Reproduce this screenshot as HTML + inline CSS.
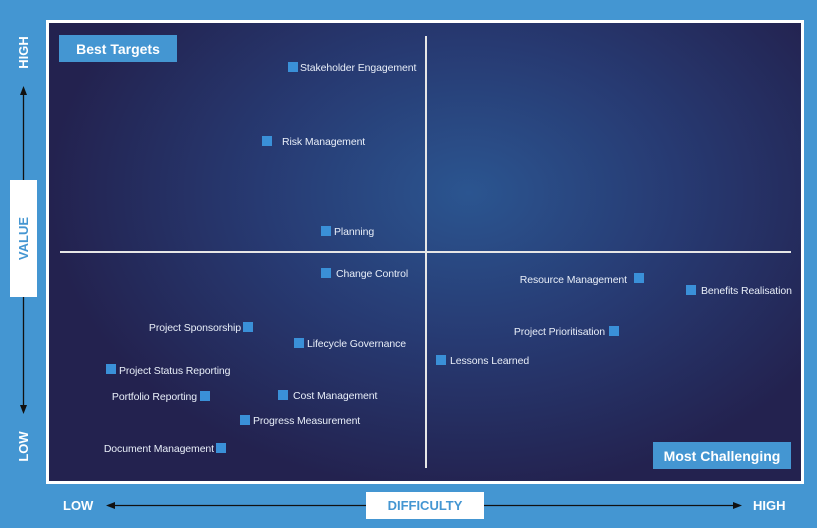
<!DOCTYPE html>
<html><head><style>
*{margin:0;padding:0;box-sizing:border-box}
body{width:817px;height:528px;background:#4496d2;position:relative;overflow:hidden;font-family:"Liberation Sans",sans-serif}
#panel{position:absolute;left:46px;top:20px;width:758px;height:464px;border:3px solid #fff;background:radial-gradient(ellipse 420px 300px at 420px 170px,#2b5590 0%,#273a72 50%,#23224f 100%)}
.t{position:absolute;color:#e8eef8;font-size:10.5px;line-height:12px;white-space:nowrap;letter-spacing:-0.1px}
.s{position:absolute;width:10px;height:10px;background:#3a90d8}
.lbl{position:absolute;background:#4496d2;color:#fff;font-weight:bold;font-size:14px;display:flex;align-items:center;justify-content:center}
.w{position:absolute;color:#fff;font-weight:bold;font-size:13px}
</style></head><body>
<div id="panel"></div>
<div style="position:absolute;left:425px;top:36px;width:2px;height:432px;background:#e6e6e6"></div>
<div style="position:absolute;left:60px;top:251px;width:731px;height:2px;background:#e6e6e6"></div>
<div class="lbl" style="left:59px;top:35px;width:118px;height:27px">Best Targets</div>
<div class="lbl" style="left:653px;top:442px;width:138px;height:27px">Most Challenging</div>

<div class="s" style="left:288px;top:62px"></div><div class="t" style="left:300px;top:62px">Stakeholder Engagement</div>
<div class="s" style="left:262px;top:136px"></div><div class="t" style="left:282px;top:136px">Risk Management</div>
<div class="s" style="left:321px;top:226px"></div><div class="t" style="left:334px;top:226px">Planning</div>
<div class="s" style="left:321px;top:268px"></div><div class="t" style="left:336px;top:268px">Change Control</div>
<div class="s" style="left:634px;top:273px"></div><div class="t" style="right:190px;top:274px">Resource Management</div>
<div class="s" style="left:686px;top:285px"></div><div class="t" style="left:701px;top:285px">Benefits Realisation</div>
<div class="s" style="left:609px;top:326px"></div><div class="t" style="right:212px;top:326px">Project Prioritisation</div>
<div class="s" style="left:436px;top:355px"></div><div class="t" style="left:450px;top:355px">Lessons Learned</div>
<div class="s" style="left:243px;top:322px"></div><div class="t" style="right:576px;top:322px">Project Sponsorship</div>
<div class="s" style="left:294px;top:338px"></div><div class="t" style="left:307px;top:338px">Lifecycle Governance</div>
<div class="s" style="left:106px;top:364px"></div><div class="t" style="left:119px;top:365px">Project Status Reporting</div>
<div class="s" style="left:200px;top:391px"></div><div class="t" style="right:620px;top:391px">Portfolio Reporting</div>
<div class="s" style="left:278px;top:390px"></div><div class="t" style="left:293px;top:390px">Cost Management</div>
<div class="s" style="left:240px;top:415px"></div><div class="t" style="left:253px;top:415px">Progress Measurement</div>
<div class="s" style="left:216px;top:443px"></div><div class="t" style="right:603px;top:443px">Document Management</div>

<svg style="position:absolute;left:0;top:0" width="817" height="528">
<line x1="23.5" y1="92" x2="23.5" y2="408" stroke="#111" stroke-width="1.3"/>
<polygon points="23.5,86 20,95 27,95" fill="#111"/>
<polygon points="23.5,414 20,405 27,405" fill="#111"/>
<line x1="112" y1="505.5" x2="736" y2="505.5" stroke="#111" stroke-width="1.3"/>
<polygon points="106,505.5 115,502 115,509" fill="#111"/>
<polygon points="742,505.5 733,502 733,509" fill="#111"/>
</svg>
<div style="position:absolute;left:10px;top:180px;width:27px;height:117px;background:#fff"></div>
<div class="w" style="left:-8px;top:231px;width:63px;text-align:center;color:#4496d2;transform:rotate(-90deg)">VALUE</div>
<div class="w" style="left:-8px;top:45px;width:63px;text-align:center;transform:rotate(-90deg)">HIGH</div>
<div class="w" style="left:-8px;top:439px;width:63px;text-align:center;transform:rotate(-90deg)">LOW</div>
<div style="position:absolute;left:366px;top:492px;width:118px;height:27px;background:#fff;color:#4496d2;font-weight:bold;font-size:13px;display:flex;align-items:center;justify-content:center">DIFFICULTY</div>
<div class="w" style="left:63px;top:498px">LOW</div>
<div class="w" style="left:753px;top:498px">HIGH</div>
</body></html>
